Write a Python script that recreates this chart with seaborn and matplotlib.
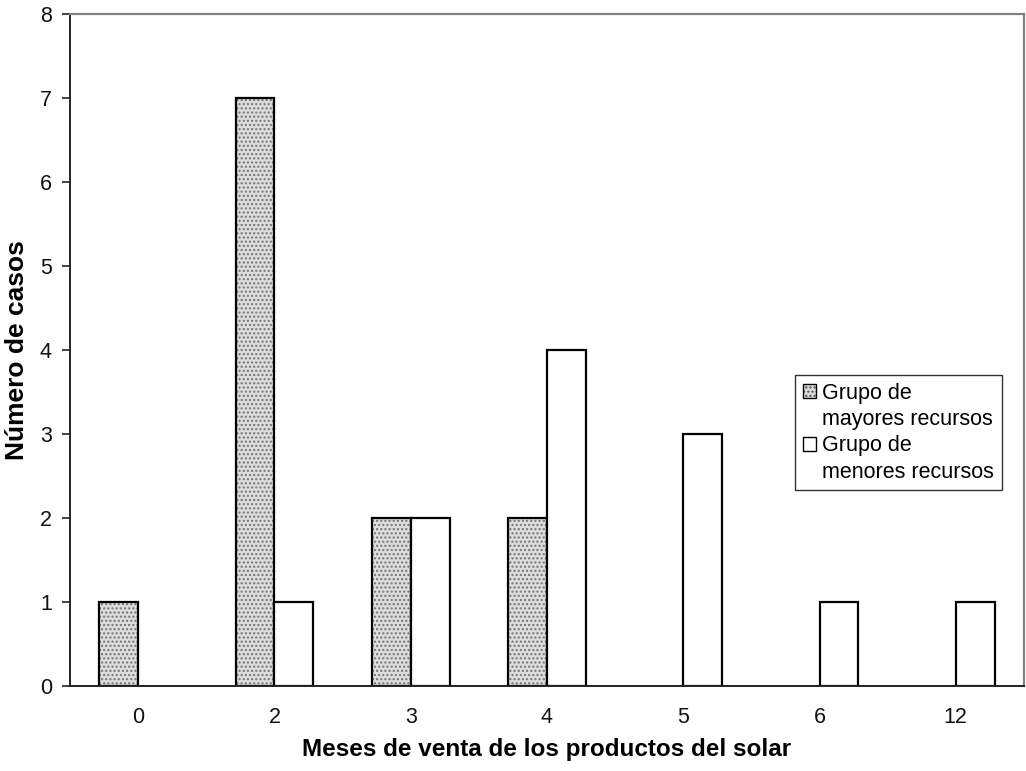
import matplotlib
matplotlib.use("Agg")
import matplotlib.pyplot as plt
from matplotlib.patches import Rectangle
import seaborn as sns
import pandas as pd

# Data: number of cases per months of sales, by resource group
meses = ["0", "2", "3", "4", "5", "6", "12"]
mayores = [1, 7, 2, 2, 0, 0, 0]
menores = [0, 1, 2, 4, 3, 1, 1]
grupos = ["Grupo de\nmayores recursos", "Grupo de\nmenores recursos"]

df = pd.DataFrame({
    "mes": meses * 2,
    "casos": mayores + menores,
    "grupo": [grupos[0]] * len(meses) + [grupos[1]] * len(meses),
})

sns.set_theme(style="white")
plt.rcParams["font.family"] = ["Liberation Sans", "DejaVu Sans"]

fig = plt.figure(figsize=(10.26, 7.71), dpi=100)
ax = fig.add_axes([0.0682, 0.1102, 0.9298, 0.8716])

sns.barplot(data=df, x="mes", y="casos", hue="grupo", order=meses,
            hue_order=grupos, palette=["#dcdcdc", "white"], width=0.57,
            gap=0, edgecolor="black", linewidth=1.6, saturation=1,
            errorbar=None, legend=False, ax=ax)

# dotted fill for the first group
n = len(meses)
for i, p in enumerate(ax.patches[:2 * n]):
    if i < n:
        p.set_hatch("....")
        p._hatch_color = (0.45, 0.45, 0.45, 1.0)
    if p.get_height() == 0:
        p.set_visible(False)

ax.set_xlim(-0.5, n - 0.5)
ax.set_ylim(0, 8)
ax.set_yticks(range(0, 9))

# category boundary ticks on the x axis
ax.set_xticks([i - 0.5 for i in range(n + 1)], minor=True)
ax.tick_params(axis="x", which="major", length=0, pad=15, labelsize=15.5,
               labelcolor="#111111")
ax.tick_params(axis="x", which="minor", length=7, width=1.2, color="#222222",
               direction="inout")
ax.tick_params(axis="y", which="major", length=6, width=1.2, color="#222222",
               left=True, direction="out", pad=7, labelsize=15.5,
               labelcolor="#111111")

for side in ["left", "bottom"]:
    ax.spines[side].set_color("#222222")
    ax.spines[side].set_linewidth(1.4)
for side in ["top", "right"]:
    ax.spines[side].set_visible(True)
    ax.spines[side].set_color("#808080")
    ax.spines[side].set_linewidth(1.6)

ax.set_xlabel("Meses de venta de los productos del solar", fontsize=17.5,
              fontweight="bold", color="black")
ax.xaxis.set_label_coords(0.5, -0.078)
ax.set_ylabel("Número de casos", fontsize=19, fontweight="bold",
              color="black", labelpad=8)

# legend: swatch beside the first line of each two-line label
handles, labels = [], []
fills = [("#dcdcdc", "...."), ("white", None)]
for g, (fc, hatch) in zip(grupos, fills):
    first, second = g.split("\n")
    sw = Rectangle((0, 0), 1, 1, facecolor=fc, edgecolor="black",
                   linewidth=1.0, hatch=hatch)
    sw._hatch_color = (0.3, 0.3, 0.3, 1.0)
    handles += [sw, Rectangle((0, 0), 1, 1, fill=False, edgecolor="none")]
    labels += [first, second]

leg = ax.legend(handles, labels, loc="upper left",
                bbox_to_anchor=(0.76, 0.4628), fontsize=15.5, frameon=True,
                fancybox=False, handlelength=0.62, handleheight=0.62,
                handletextpad=0.3, borderpad=0.35, labelspacing=0.25,
                borderaxespad=0)
leg.get_frame().set_edgecolor("black")
leg.get_frame().set_linewidth(1.0)
for t in leg.get_texts():
    t.set_color("black")

fig.savefig("out.png", dpi=100)
